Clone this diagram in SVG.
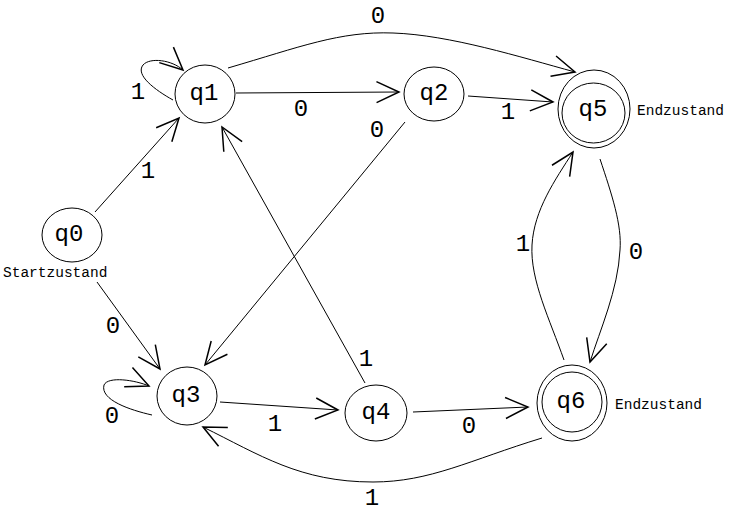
<svg xmlns="http://www.w3.org/2000/svg" width="735" height="524" viewBox="0 0 735 524">
<style>
.n{fill:none;stroke:#000;stroke-width:1}
.e{fill:none;stroke:#000;stroke-width:1;marker-end:url(#a)}
.t{font-family:"Liberation Mono",monospace;font-size:24px;fill:#000;text-anchor:middle}
.l{font-family:"Liberation Mono",monospace;font-size:24px;fill:#000;text-anchor:middle}
.s{font-family:"Liberation Mono",monospace;font-size:14.5px;fill:#000}
</style>
<defs>
<marker id="a" markerUnits="userSpaceOnUse" markerWidth="30" markerHeight="30" refX="0" refY="0" viewBox="-16 -10 20 20" orient="auto" overflow="visible">
<path d="M-15,-7 L0,0 L-15,7" fill="none" stroke="#000" stroke-width="1"/>
</marker>
</defs>
<rect width="735" height="524" fill="#fff"/>
<g id="connectors">
<path class="e" d="M173,100 C155,90 135,75 143,65 C150,57 172,60 183,70"/>
<path class="e" d="M236,93 L399,92"/>
<path class="e" d="M228,68 C300,47 340,31 393,33 C450,35 520,57 575,72"/>
<path class="e" d="M468,96 L553,102"/>
<path class="e" d="M405,122 L205,365"/>
<path class="e" d="M95,212 L179,118"/>
<path class="e" d="M97,282 L160,369"/>
<path class="e" d="M152,415 C130,410 100,400 104,385 C108,376 135,380 149,386"/>
<path class="e" d="M220,402 L338,410"/>
<path class="e" d="M365,383 L222,127"/>
<path class="e" d="M413,412 L528,407"/>
<path class="e" d="M600,159 C612,195 622,225 620,250 C618,290 600,330 590,362"/>
<path class="e" d="M564,360 C550,320 530,280 532,245 C534,210 555,180 573,152"/>
<path class="e" d="M542,438 C470,460 430,482 373,482 C300,482 260,455 203,427"/>
<text class="l" x="138" y="99">1</text>
<text class="l" x="301" y="116">0</text>
<text class="l" x="378" y="23">0</text>
<text class="l" x="508" y="119">1</text>
<text class="l" x="377" y="137">0</text>
<text class="l" x="148" y="178">1</text>
<text class="l" x="113" y="333">0</text>
<text class="l" x="112" y="423">0</text>
<text class="l" x="275" y="431">1</text>
<text class="l" x="366" y="366">1</text>
<text class="l" x="469" y="433">0</text>
<text class="l" x="372" y="505">1</text>
<text class="l" x="636" y="259">0</text>
<text class="l" x="523" y="251">1</text>
</g>
<g id="q0"><ellipse class="n" cx="72" cy="235" rx="30" ry="27"/><text class="t" x="69" y="241">q0</text><text class="s" x="3" y="277">Startzustand</text></g>
<g id="q1"><ellipse class="n" cx="205" cy="94" rx="30" ry="29"/><text class="t" x="204" y="100">q1</text></g>
<g id="q2"><ellipse class="n" cx="434" cy="94" rx="30" ry="27"/><text class="t" x="434" y="100">q2</text></g>
<g id="q3"><ellipse class="n" cx="187" cy="396" rx="30" ry="29"/><text class="t" x="186" y="402">q3</text></g>
<g id="q4"><ellipse class="n" cx="376" cy="413" rx="31" ry="28"/><text class="t" x="376" y="419">q4</text></g>
<g id="q5"><ellipse class="n" cx="594" cy="109" rx="36" ry="39"/><ellipse class="n" cx="593.5" cy="113" rx="31.5" ry="30"/><text class="t" x="593" y="116">q5</text><text class="s" x="637" y="115">Endzustand</text></g>
<g id="q6"><ellipse class="n" cx="572" cy="403" rx="35" ry="38"/><ellipse class="n" cx="572" cy="402" rx="30" ry="30"/><text class="t" x="571" y="408">q6</text><text class="s" x="615" y="409">Endzustand</text></g>
</svg>
